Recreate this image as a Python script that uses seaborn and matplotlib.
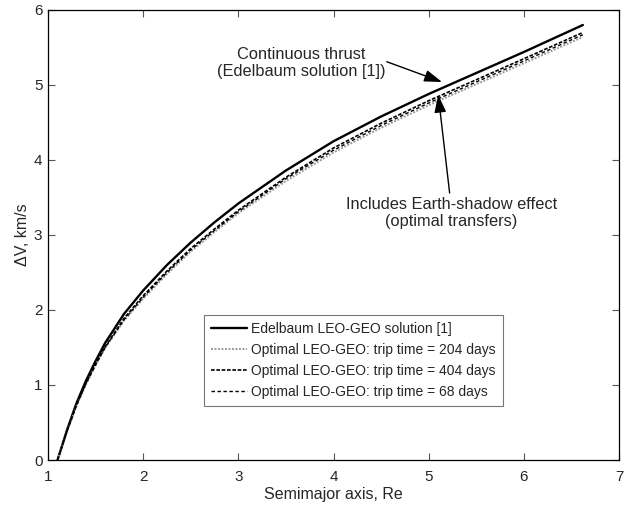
import matplotlib
matplotlib.use("Agg")
import matplotlib.pyplot as plt
import seaborn as sns
import pandas as pd

# Semimajor axis (Re)
a_re = [1.1, 1.2, 1.3, 1.4, 1.5, 1.6, 1.8, 2.0, 2.25, 2.5, 2.75, 3.0, 3.5, 4.0, 4.5, 5.0, 5.5, 6.0, 6.62]
# Delta-V (km/s)
dv_edelbaum = [0, 0.40, 0.76, 1.06, 1.32, 1.56, 1.95, 2.26, 2.60, 2.90, 3.17, 3.42, 3.86, 4.25, 4.58, 4.88, 5.16, 5.44, 5.80]
dv_404 = [0, 0.39, 0.74, 1.03, 1.28, 1.51, 1.89, 2.19, 2.52, 2.82, 3.08, 3.33, 3.77, 4.16, 4.49, 4.79, 5.07, 5.35, 5.70]
dv_68 = [0, 0.39, 0.73, 1.02, 1.27, 1.50, 1.87, 2.17, 2.50, 2.80, 3.06, 3.31, 3.75, 4.13, 4.46, 4.76, 5.04, 5.32, 5.67]
dv_204 = [0, 0.38, 0.72, 1.01, 1.26, 1.49, 1.86, 2.15, 2.48, 2.78, 3.04, 3.29, 3.72, 4.10, 4.43, 4.73, 5.01, 5.29, 5.64]

labels = ["Edelbaum LEO-GEO solution [1]",
          "Optimal LEO-GEO: trip time = 204 days",
          "Optimal LEO-GEO: trip time = 404 days",
          "Optimal LEO-GEO: trip time = 68 days"]

sns.set_theme(style="white")
plt.rcParams['font.family'] = ['Liberation Sans', 'DejaVu Sans']

fig = plt.figure(figsize=(6.3, 5.07), dpi=100)
ax = fig.add_axes([0.0762, 0.0927, 0.9064, 0.8876])

series = [(dv_edelbaum, labels[0], "black", 1.7, None),
          (dv_204, labels[1], "#9a9a9a", 1.4, (1, 0.8)),
          (dv_404, labels[2], "black", 1.2, (2.2, 1.0)),
          (dv_68, labels[3], "black", 1.0, (2.5, 1.8))]

for vals, lab, col, lw, dash in series:
    df = pd.DataFrame({"a": a_re, "dv": vals})
    sns.lineplot(data=df, x="a", y="dv", ax=ax, color=col, linewidth=lw, label=lab)
    if dash is not None:
        ax.lines[-1].set_dashes(dash)

ax.set_xlim(1, 7)
ax.set_ylim(0, 6)
ax.set_xticks(range(1, 8))
ax.set_yticks(range(0, 7))
ax.set_xlabel("Semimajor axis, Re", fontsize=11.5, labelpad=2)
ax.set_ylabel("ΔV, km/s", fontsize=11.5, labelpad=3)
ax.tick_params(direction="in", length=5, width=0.8, labelsize=11, top=True, right=True,
               bottom=True, left=True, color="#555555")
ax.tick_params(axis="x", pad=7)
ax.tick_params(axis="y", pad=4)
for s in ax.spines.values():
    s.set_color("black")
    s.set_linewidth(0.9)

arrow = dict(arrowstyle="-|>,head_length=0.9,head_width=0.3", color="black", lw=1.0,
             shrinkA=0, shrinkB=0)
ax.text(3.66, 5.29, "Continuous thrust\n(Edelbaum solution [1])", ha="center", va="center",
        fontsize=11.8, linespacing=1.15)
ax.annotate("", xy=(5.14, 5.04), xytext=(4.56, 5.31), arrowprops=arrow)
ax.text(5.24, 3.29, "Includes Earth-shadow effect\n(optimal transfers)", ha="center", va="center",
        fontsize=11.8, linespacing=1.15)
ax.annotate("", xy=(5.10, 4.87), xytext=(5.22, 3.56), arrowprops=arrow)

leg = ax.legend(loc="upper left", bbox_to_anchor=(0.273, 0.322),
                fontsize=10, frameon=True, fancybox=False, borderpad=0.5, labelspacing=0.5,
                handlelength=2.6, handletextpad=0.3, borderaxespad=0)
leg.get_frame().set_edgecolor("#555555")
leg.get_frame().set_linewidth(0.8)

fig.savefig("out.png", dpi=100)
